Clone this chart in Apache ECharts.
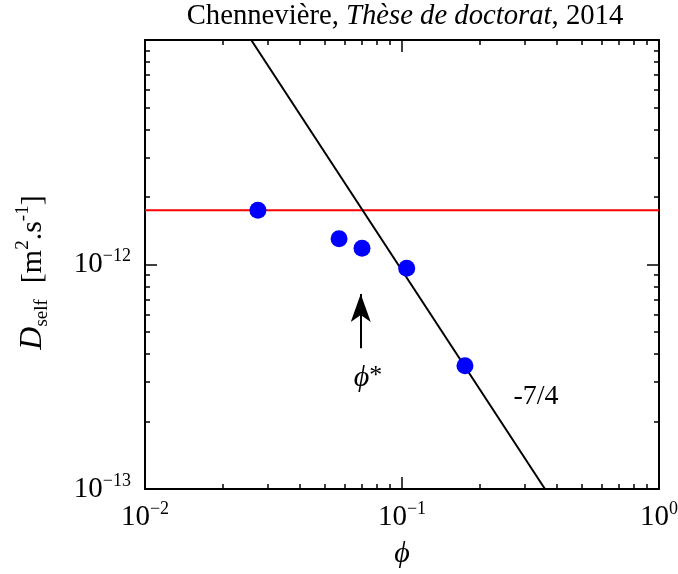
<!DOCTYPE html>
<html>
<head>
<meta charset="utf-8">
<script src="https://cdn.jsdelivr.net/npm/echarts@6/dist/echarts.min.js"></script>
<style>html,body{margin:0;padding:0;background:#fff}#c{width:678px;height:574px}</style>
</head>
<body>
<div id="c"></div>
<script>
// ---- data ----
const phi = [0.0275, 0.0569, 0.0699, 0.1043, 0.1758];
const dself = [1.743e-12, 1.303e-12, 1.181e-12, 0.962e-12, 3.54e-13];
const plateauLevel = 1.743e-12;
const plateauX = [0.01, 1];
const slopeLineX = [0.0259, 0.36];
const slopeLineY = [1e-11, 1e-13];
const arrowFrom = [0.0691, 4.24e-13];
const arrowTo = [0.0691, 7.39e-13];
const phiStarPos = [0.0737, 3.12e-13];
const slopeLabelPos = [0.332, 2.57e-13];
const slopeLabel = '-7/4';
const xRange = [0.01, 1];
const yRange = [1e-13, 1e-11];
const titleParts = ['Chennevière, ', 'Thèse de doctorat', ', 2014'];

const SERIF = '"Liberation Serif","DejaVu Serif",serif';

function minorTicks(lo, hi) {
  const out = [];
  for (let n = lo; n < hi; n++) for (let k = 2; k <= 9; k++) out.push(n + Math.log10(k));
  return out;
}
function expLabel(v) {
  const e = Math.round(Math.log10(v));
  return '{b|10}{s|' + (e < 0 ? '\u2212' : '') + Math.abs(e) + '}';
}
const labelRich = {
  b: {fontFamily: SERIF, fontSize: 29, color: '#000', lineHeight: 34},
  s: {fontFamily: SERIF, fontSize: 18, color: '#000', lineHeight: 16, verticalAlign: 'top'}
};
const axisLineStyle = {color: '#000', width: 2};
const majorTick = {show: true, inside: true, length: 12, lineStyle: {color: '#000', width: 1.5}};
const minorTick = {show: true, inside: true, length: 5, lineStyle: {color: '#000', width: 1.5}};

const chart = echarts.init(document.getElementById('c'), null, {renderer: 'canvas'});
const option = {
  animation: false,
  backgroundColor: '#fff',
  title: {
    text: '{n|' + titleParts[0] + '}{i|' + titleParts[1] + '}{n|' + titleParts[2] + '}',
    left: 400, top: -3, textAlign: 'center',
    textStyle: {
      fontWeight: 'normal',
      rich: {
        n: {fontFamily: SERIF, fontSize: 28.7, fontWeight: 'normal', color: '#000'},
        i: {fontFamily: SERIF, fontSize: 28.7, fontWeight: 'normal', fontStyle: 'italic', color: '#000'}
      }
    }
  },
  grid: {left: 145, right: 19, top: 40, bottom: 85, containLabel: false, outerBoundsMode: 'none'},
  xAxis: [
    {type: 'log', logBase: 10, min: xRange[0], max: xRange[1], position: 'bottom',
      axisLine: {show: true, onZero: false, lineStyle: axisLineStyle},
      axisTick: majorTick, splitLine: {show: false},
      axisLabel: {formatter: expLabel, rich: labelRich, margin: 11},
      name: 'ϕ', nameLocation: 'middle', nameGap: 50,
      nameTextStyle: {fontFamily: SERIF, fontSize: 30, fontStyle: 'italic', color: '#000'}
    },
    {type: 'log', logBase: 10, min: xRange[0], max: xRange[1], position: 'top',
      axisLine: {show: true, onZero: false, lineStyle: axisLineStyle},
      axisTick: majorTick, splitLine: {show: false}, axisLabel: {show: false}},
    {type: 'value', min: -2, max: 0, position: 'bottom',
      axisLine: {show: false, onZero: false}, splitLine: {show: false},
      axisTick: Object.assign({customValues: minorTicks(-2, 0)}, minorTick),
      axisLabel: {show: false}},
    {type: 'value', min: -2, max: 0, position: 'top',
      axisLine: {show: false, onZero: false}, splitLine: {show: false},
      axisTick: Object.assign({customValues: minorTicks(-2, 0)}, minorTick),
      axisLabel: {show: false}}
  ],
  yAxis: [
    {type: 'log', logBase: 10, min: yRange[0], max: yRange[1], position: 'left',
      axisLine: {show: true, onZero: false, lineStyle: axisLineStyle},
      axisTick: majorTick, splitLine: {show: false},
      axisLabel: {formatter: function (v) { return Math.round(Math.log10(v)) >= -11 ? '' : expLabel(v); }, rich: labelRich, margin: 14},
      name: '{d|D}{sub|self}{g| }{n|[m}{sup|2}{n|.s}{sup|-1}{n|]}',
      nameLocation: 'middle', nameRotate: 90, nameGap: 93,
      nameTextStyle: {
        padding: [0, 16, 0, 0],
        rich: {
          d: {fontFamily: SERIF, fontSize: 32, fontStyle: 'italic', color: '#000', lineHeight: 38},
          sub: {fontFamily: SERIF, fontSize: 19, color: '#000', lineHeight: 16, verticalAlign: 'bottom'},
          g: {fontFamily: SERIF, fontSize: 22, color: '#000', width: 16},
          n: {fontFamily: SERIF, fontSize: 30, color: '#000', lineHeight: 38},
          sup: {fontFamily: SERIF, fontSize: 19, color: '#000', lineHeight: 18, verticalAlign: 'top'}
        }
      }
    },
    {type: 'log', logBase: 10, min: yRange[0], max: yRange[1], position: 'right',
      axisLine: {show: true, onZero: false, lineStyle: axisLineStyle},
      axisTick: majorTick, splitLine: {show: false}, axisLabel: {show: false}},
    {type: 'value', min: -13, max: -11, position: 'left',
      axisLine: {show: false, onZero: false}, splitLine: {show: false},
      axisTick: Object.assign({customValues: minorTicks(-13, -11)}, minorTick),
      axisLabel: {show: false}},
    {type: 'value', min: -13, max: -11, position: 'right',
      axisLine: {show: false, onZero: false}, splitLine: {show: false},
      axisTick: Object.assign({customValues: minorTicks(-13, -11)}, minorTick),
      axisLabel: {show: false}}
  ],
  series: [
    {type: 'line', xAxisIndex: 0, yAxisIndex: 0, symbol: 'none',
      data: plateauX.map(x => [x, plateauLevel]),
      lineStyle: {color: '#ff0000', width: 2}, z: 2},
    {type: 'line', xAxisIndex: 0, yAxisIndex: 0, symbol: 'none',
      data: slopeLineX.map((x, i) => [x, slopeLineY[i]]),
      lineStyle: {color: '#000', width: 2}, z: 3},
    {type: 'scatter', xAxisIndex: 0, yAxisIndex: 0, symbol: 'circle', symbolSize: 17,
      data: phi.map((x, i) => [x, dself[i]]),
      itemStyle: {color: '#0000ff', opacity: 1}, z: 4},
    {type: 'line', xAxisIndex: 0, yAxisIndex: 0, symbol: 'none',
      data: [arrowFrom, arrowTo],
      lineStyle: {color: '#000', width: 0, opacity: 0}, z: 5,
      markLine: {
        silent: true, symbol: ['none', 'arrow'], symbolSize: [15, 28],
        lineStyle: {color: '#000', width: 2, type: 'solid'}, label: {show: false},
        data: [[{coord: arrowFrom}, {coord: arrowTo}]]
      }
    },
    {type: 'scatter', xAxisIndex: 0, yAxisIndex: 0, symbolSize: 0, silent: true,
      itemStyle: {opacity: 1},
      data: [
        {value: phiStarPos, label: {show: true, position: 'inside', formatter: '{p|ϕ}{a|*}',
          rich: {p: {fontFamily: SERIF, fontSize: 30, fontStyle: 'italic', color: '#000'},
                 a: {fontFamily: SERIF, fontSize: 26, color: '#000', verticalAlign: 'top', lineHeight: 22}}}},
        {value: slopeLabelPos, label: {show: true, position: 'inside', formatter: slopeLabel,
          fontFamily: SERIF, fontSize: 28, color: '#000'}}
      ], z: 6}
  ]
};
chart.setOption(option);
</script>
</body>
</html>
